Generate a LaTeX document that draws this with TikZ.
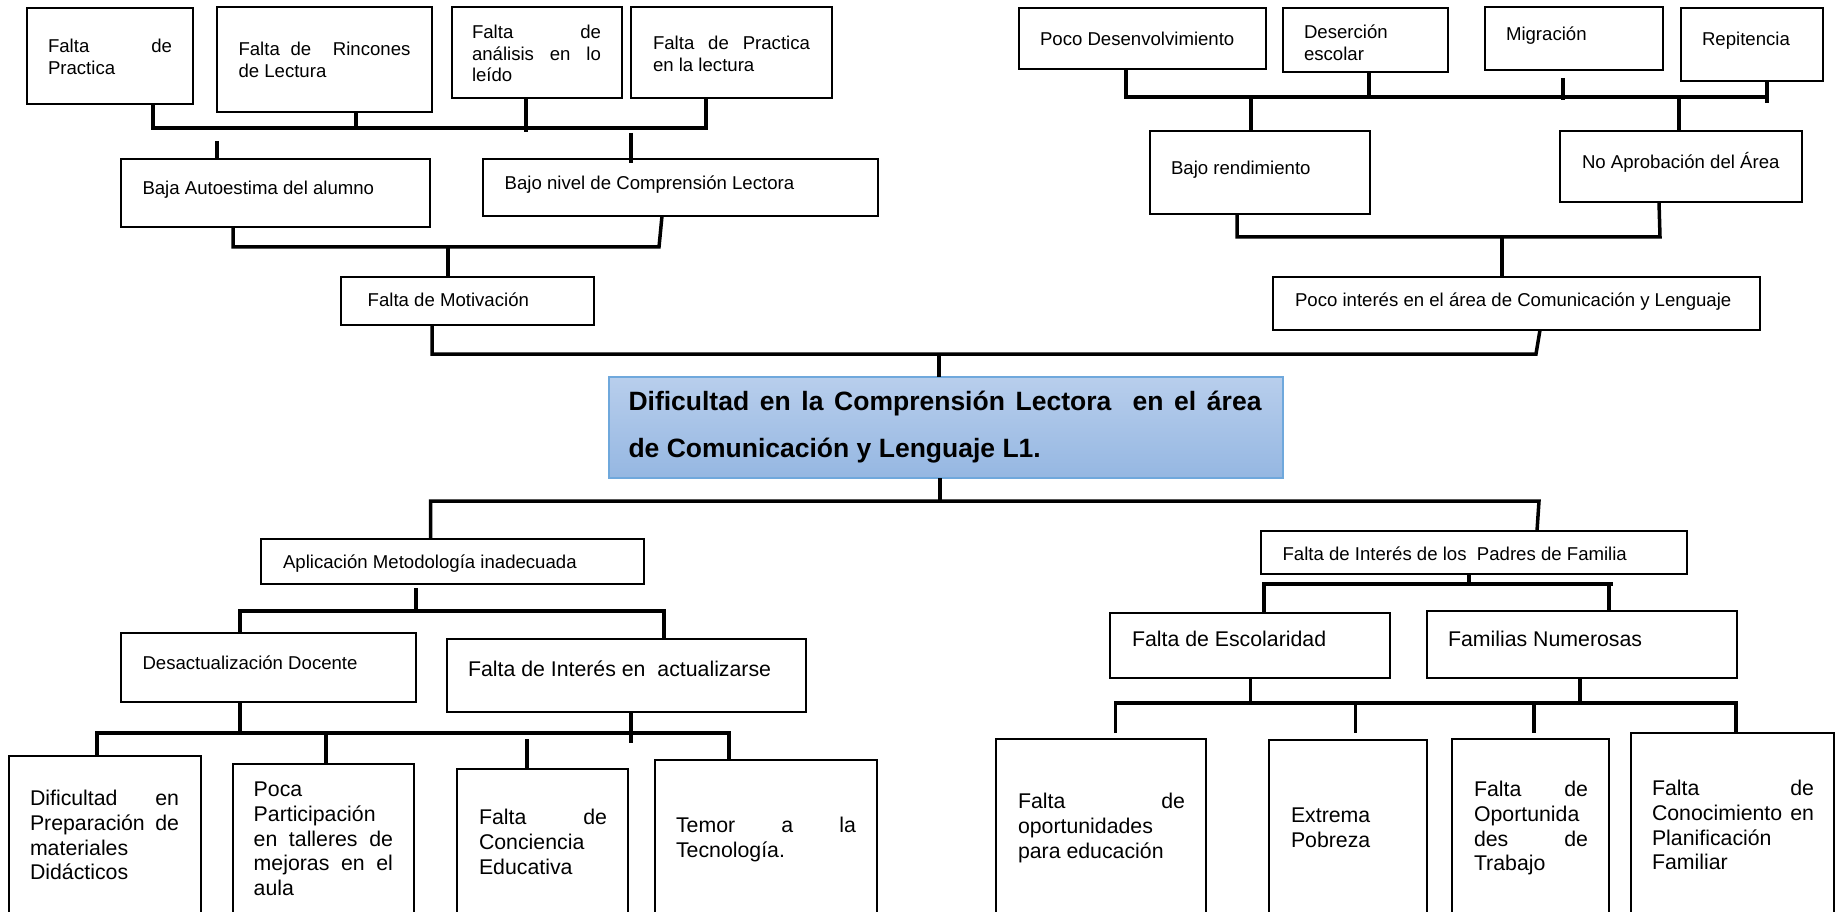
\documentclass[tikz,border=0pt]{standalone}
\usepackage{fontspec}
\setmainfont{Liberation Sans}
\usetikzlibrary{fit}
\tolerance=10000 \pretolerance=10000 \hbadness=10000 \parindent=0pt
\definecolor{mainblue}{RGB}{111,168,220}
\definecolor{maintop}{RGB}{184,206,236}
\definecolor{mainbot}{RGB}{149,183,226}
\newcommand{\fs}{\fontsize{18.6}{21.5}\selectfont}
\newcommand{\fm}{\fontsize{21.3}{24.7}\selectfont}
\newcommand{\ftitle}{\fontsize{26.5}{47}\selectfont\bfseries}
\begin{document}
\begin{tikzpicture}[x=1pt,y=-1pt,
  box/.style={draw=black, line width=2.2pt, inner sep=0pt, outer sep=0pt},
  conn/.style={draw=black, line width=3.5pt, line join=miter},
  lbl/.style={inner sep=0pt, outer sep=0pt, anchor=base west},
  sm/.style={lbl, font=\fs},
  md/.style={lbl, font=\fm}]
\fill[white] (0,0) rectangle (1837,912);
\useasboundingbox (0,0) rectangle (1837,912);

% ---------------- boxes ----------------
\node[box, fit={(27,8)(193,104)}] (a1) {};
\node[box, fit={(217,7)(432,112)}] (a2) {};
\node[box, fit={(452,7)(622,98)}] (a3) {};
\node[box, fit={(631,7)(832,98)}] (a4) {};
\node[box, fit={(121,159)(430,227)}] (b1) {};
\node[box, fit={(483,159)(878,216)}] (b2) {};
\node[box, fit={(341,277)(594,325)}] (cc) {};
\node[box, fit={(1019,8)(1266,69)}] (d1) {};
\node[box, fit={(1283,8)(1448,72)}] (d2) {};
\node[box, fit={(1485,7)(1663,70)}] (d3) {};
\node[box, fit={(1681,8)(1823,81)}] (d4) {};
\node[box, fit={(1150,131)(1370,214)}] (e1) {};
\node[box, fit={(1560,131)(1802,202)}] (e2) {};
\node[box, fit={(1273,277)(1760,330)}] (ff) {};
\node[draw=mainblue, line width=1.2pt, top color=maintop, bottom color=mainbot,
      inner sep=0pt, outer sep=0pt, fit={(609,377)(1283,478)}] (main) {};
\node[box, fit={(261,539)(644,584)}] (g) {};
\node[box, fit={(121,633)(416,702)}] (h1) {};
\node[box, fit={(447,639)(806,712)}] (h2) {};
\node[box, fit={(9,756)(201,915)}] (i1) {};
\node[box, fit={(233,764)(414,915)}] (i2) {};
\node[box, fit={(457,769)(628,915)}] (i3) {};
\node[box, fit={(655,760)(877,915)}] (i4) {};
\node[box, fit={(1261,531)(1687,574)}] (j) {};
\node[box, fit={(1110,613)(1390,678)}] (m1) {};
\node[box, fit={(1427,611)(1737,678)}] (m2) {};
\node[box, fit={(996,739)(1206,915)}] (l1) {};
\node[box, fit={(1269,740)(1427,915)}] (l2) {};
\node[box, fit={(1452,739)(1609,915)}] (l3) {};
\node[box, fit={(1631,733)(1834,915)}] (l4) {};

% ---------------- labels ----------------
\node[sm, text width=124pt, align=justify] (ta1) at (48,52.7) {Falta de\linebreak Practica};
\node[sm, text width=172pt, align=justify] (ta2) at (238.5,55.7) {Falta de\ \ Rincones\linebreak de Lectura};
\node[sm, text width=129pt, align=justify] (ta3) at (472,38.7) {Falta de\linebreak análisis en lo\linebreak leído};
\node[sm, text width=157pt, align=justify] (ta4) at (653,49.7) {Falta de Practica\linebreak en la lectura};
\node[sm] (tb1) at (142.5,194.7) {Baja Autoestima del alumno};
\node[sm] (tb2) at (504.7,189.7) {Bajo nivel de Comprensión Lectora};
\node[sm] (tc) at (367.7,306.7) {Falta de Motivación};
\node[sm] (td1) at (1040,45.7) {Poco Desenvolvimiento};
\node[sm, text width=140pt, align=left] (td2) at (1304,38.7) {Deserción\\escolar};
\node[sm] (td3) at (1506,40.7) {Migración};
\node[sm] (td4) at (1702,45.7) {Repitencia};
\node[sm] (te1) at (1171,174.7) {Bajo rendimiento};
\node[sm] (te2) at (1582,168.7) {No Aprobación del Área};
\node[sm] (tf) at (1295,306.7) {Poco interés en el área de Comunicación y Lenguaje};
\node[lbl, font=\ftitle, text width=633pt, align=justify] (tmain) at (628.5,410)
  {Dificultad en la Comprensión Lectora\ \ en el área\linebreak de Comunicación y Lenguaje L1.};
\node[sm] (tg) at (283,568.7) {Aplicación Metodología inadecuada};
\node[sm] (th1) at (142.5,669.7) {Desactualización Docente};
\node[md] (th2) at (468,676.7) {Falta de Interés en\ \ actualizarse};
\node[md, text width=149pt, align=justify] (ti1) at (30,805.7) {Dificultad en\linebreak Preparación de\linebreak materiales\linebreak Didácticos};
\node[md, text width=139.3pt, align=justify] (ti2) at (253.7,796.7) {Poca\linebreak Participación\linebreak en talleres de\linebreak mejoras en el\linebreak aula};
\node[md, text width=128pt, align=justify] (ti3) at (479,824.7) {Falta de\linebreak Conciencia\linebreak Educativa};
\node[md, text width=180pt, align=justify] (ti4) at (676,832.7) {Temor a la\linebreak Tecnología.};
\node[sm] (tj) at (1282.6,560.4) {Falta de Interés de los\ \ Padres de Familia};
\node[md] (tm1) at (1132,646.7) {Falta de Escolaridad};
\node[md] (tm2) at (1448,646.7) {Familias Numerosas};
\node[md, text width=167pt, align=justify] (tl1) at (1018,808.7) {Falta de\linebreak oportunidades\linebreak para educación};
\node[md, text width=120pt, align=left] (tl2) at (1291,822.7) {Extrema\\Pobreza};
\node[md, text width=114pt, align=justify] (tl3) at (1474,796.7) {Falta de\linebreak Oportunida\linebreak des de\linebreak Trabajo};
\node[md, text width=162pt, align=justify] (tl4) at (1652,795.7) {Falta de\linebreak Conocimiento en\linebreak Planificación\linebreak Familiar};

% ---------------- connectors: top left ----------------
\coordinate (p1l) at (153,128); \coordinate (p1r) at (706,128);
\coordinate (p1b) at (356,128); \coordinate (p1c) at (526,132);
\draw[conn] (a1.south -| p1l) -- (p1l) -- (p1r) -- (a4.south -| p1r);
\draw[conn] (a2.south -| p1b) -- (p1b);
\draw[conn] (a3.south -| p1c) -- (p1c);
\coordinate (s1) at (217,141);
\draw[conn] (s1) -- (b1.north -| s1);
\coordinate (s2) at (631,133); \coordinate (s2e) at (631,163);
\draw[conn] (s2) -- (s2e);
\coordinate (p2l) at (233,247); \coordinate (p2r) at (659,247);
\coordinate (p2t) at (662,0); \coordinate (p2m) at (448,247);
\draw[conn] (b1.south -| p2l) -- (p2l) -- (p2r) -- (b2.south -| p2t);
\draw[conn] (p2m) -- (cc.north -| p2m);
\coordinate (p3l) at (432,354); \coordinate (p3r) at (1536,354);
\coordinate (p3t) at (1540,0); \coordinate (p3m) at (939,354);
\draw[conn] (cc.south -| p3l) -- (p3l) -- (p3r) -- (ff.south -| p3t);
\draw[conn] (p3m) -- (main.north -| p3m);

% ---------------- connectors: top right ----------------
\coordinate (q1l) at (1126,97); \coordinate (q1r) at (1767,97);
\coordinate (q1x) at (1767,103); \coordinate (q1b) at (1369,97);
\draw[conn] (d1.south -| q1l) -- (q1l) -- (q1r);
\draw[conn] (d4.south -| q1r) -- (q1x);
\draw[conn] (d2.south -| q1b) -- (q1b);
\coordinate (s3a) at (1563,78); \coordinate (s3b) at (1563,100);
\draw[conn] (s3a) -- (s3b);
\coordinate (q1e) at (1251,97); \coordinate (q1f) at (1679,97);
\draw[conn] (q1e) -- (e1.north -| q1e);
\draw[conn] (q1f) -- (e2.north -| q1f);
\coordinate (q2l) at (1237,237); \coordinate (q2r) at (1660,237);
\coordinate (q2t) at (1659,0); \coordinate (q2m) at (1502,237);
\draw[conn] (e1.south -| q2l) -- (q2l) -- (q2r) -- (e2.south -| q2t);
\draw[conn] (q2m) -- (ff.north -| q2m);

% ---------------- connectors: bottom ----------------
\coordinate (r1l) at (430.5,501); \coordinate (r1r) at (1539,501);
\coordinate (r1t) at (1537,0); \coordinate (r1m) at (940,501);
\draw[conn] (g.north -| r1l) -- (r1l) -- (r1r) -- (j.north -| r1t);
\draw[conn] (main.south -| r1m) -- (r1m);
\coordinate (r2a) at (416,588); \coordinate (r2m) at (416,611);
\coordinate (r2l) at (240,611); \coordinate (r2r) at (664,611);
\draw[conn] (r2a) -- (r2m);
\draw[conn] (h1.north -| r2l) -- (r2l) -- (r2r) -- (h2.north -| r2r);
\coordinate (r3l) at (97,733); \coordinate (r3r) at (729,733);
\coordinate (r3h) at (240,733); \coordinate (r3b) at (326,733);
\draw[conn] (h1.south -| r3h) -- (r3h);
\draw[conn] (i1.north -| r3l) -- (r3l) -- (r3r) -- (i4.north -| r3r);
\draw[conn] (r3b) -- (i2.north -| r3b);
\coordinate (r3x) at (631,743);
\draw[conn] (h2.south -| r3x) -- (r3x);
\coordinate (r3c) at (527,739);
\draw[conn] (r3c) -- (i3.north -| r3c);
% right bottom
\coordinate (u1m) at (1469,584); \coordinate (u1l) at (1264,584);
\coordinate (u1r) at (1613,584); \coordinate (u1d) at (1609,584);
\draw[conn] (j.south -| u1m) -- (u1m);
\draw[conn] (m1.north -| u1l) -- (u1l) -- (u1r);
\draw[conn] (u1d) -- (m2.north -| u1d);
\coordinate (u2l) at (1115.5,703); \coordinate (u2r) at (1736,703);
\coordinate (u2a) at (1115.5,733);
\coordinate (u2k) at (1250.5,703); \coordinate (u2n) at (1580,703);
\draw[conn] (m1.south -| u2k) -- (u2k);
\draw[conn] (m2.south -| u2n) -- (u2n);
\draw[conn] (u2a) -- (u2l) -- (u2r) -- (l4.north -| u2r);
\coordinate (u2b) at (1355.5,703); \coordinate (u2be) at (1355.5,733);
\coordinate (u2c) at (1534,703); \coordinate (u2ce) at (1534,733);
\draw[conn] (u2b) -- (u2be);
\draw[conn] (u2c) -- (u2ce);
\end{tikzpicture}
\end{document}
